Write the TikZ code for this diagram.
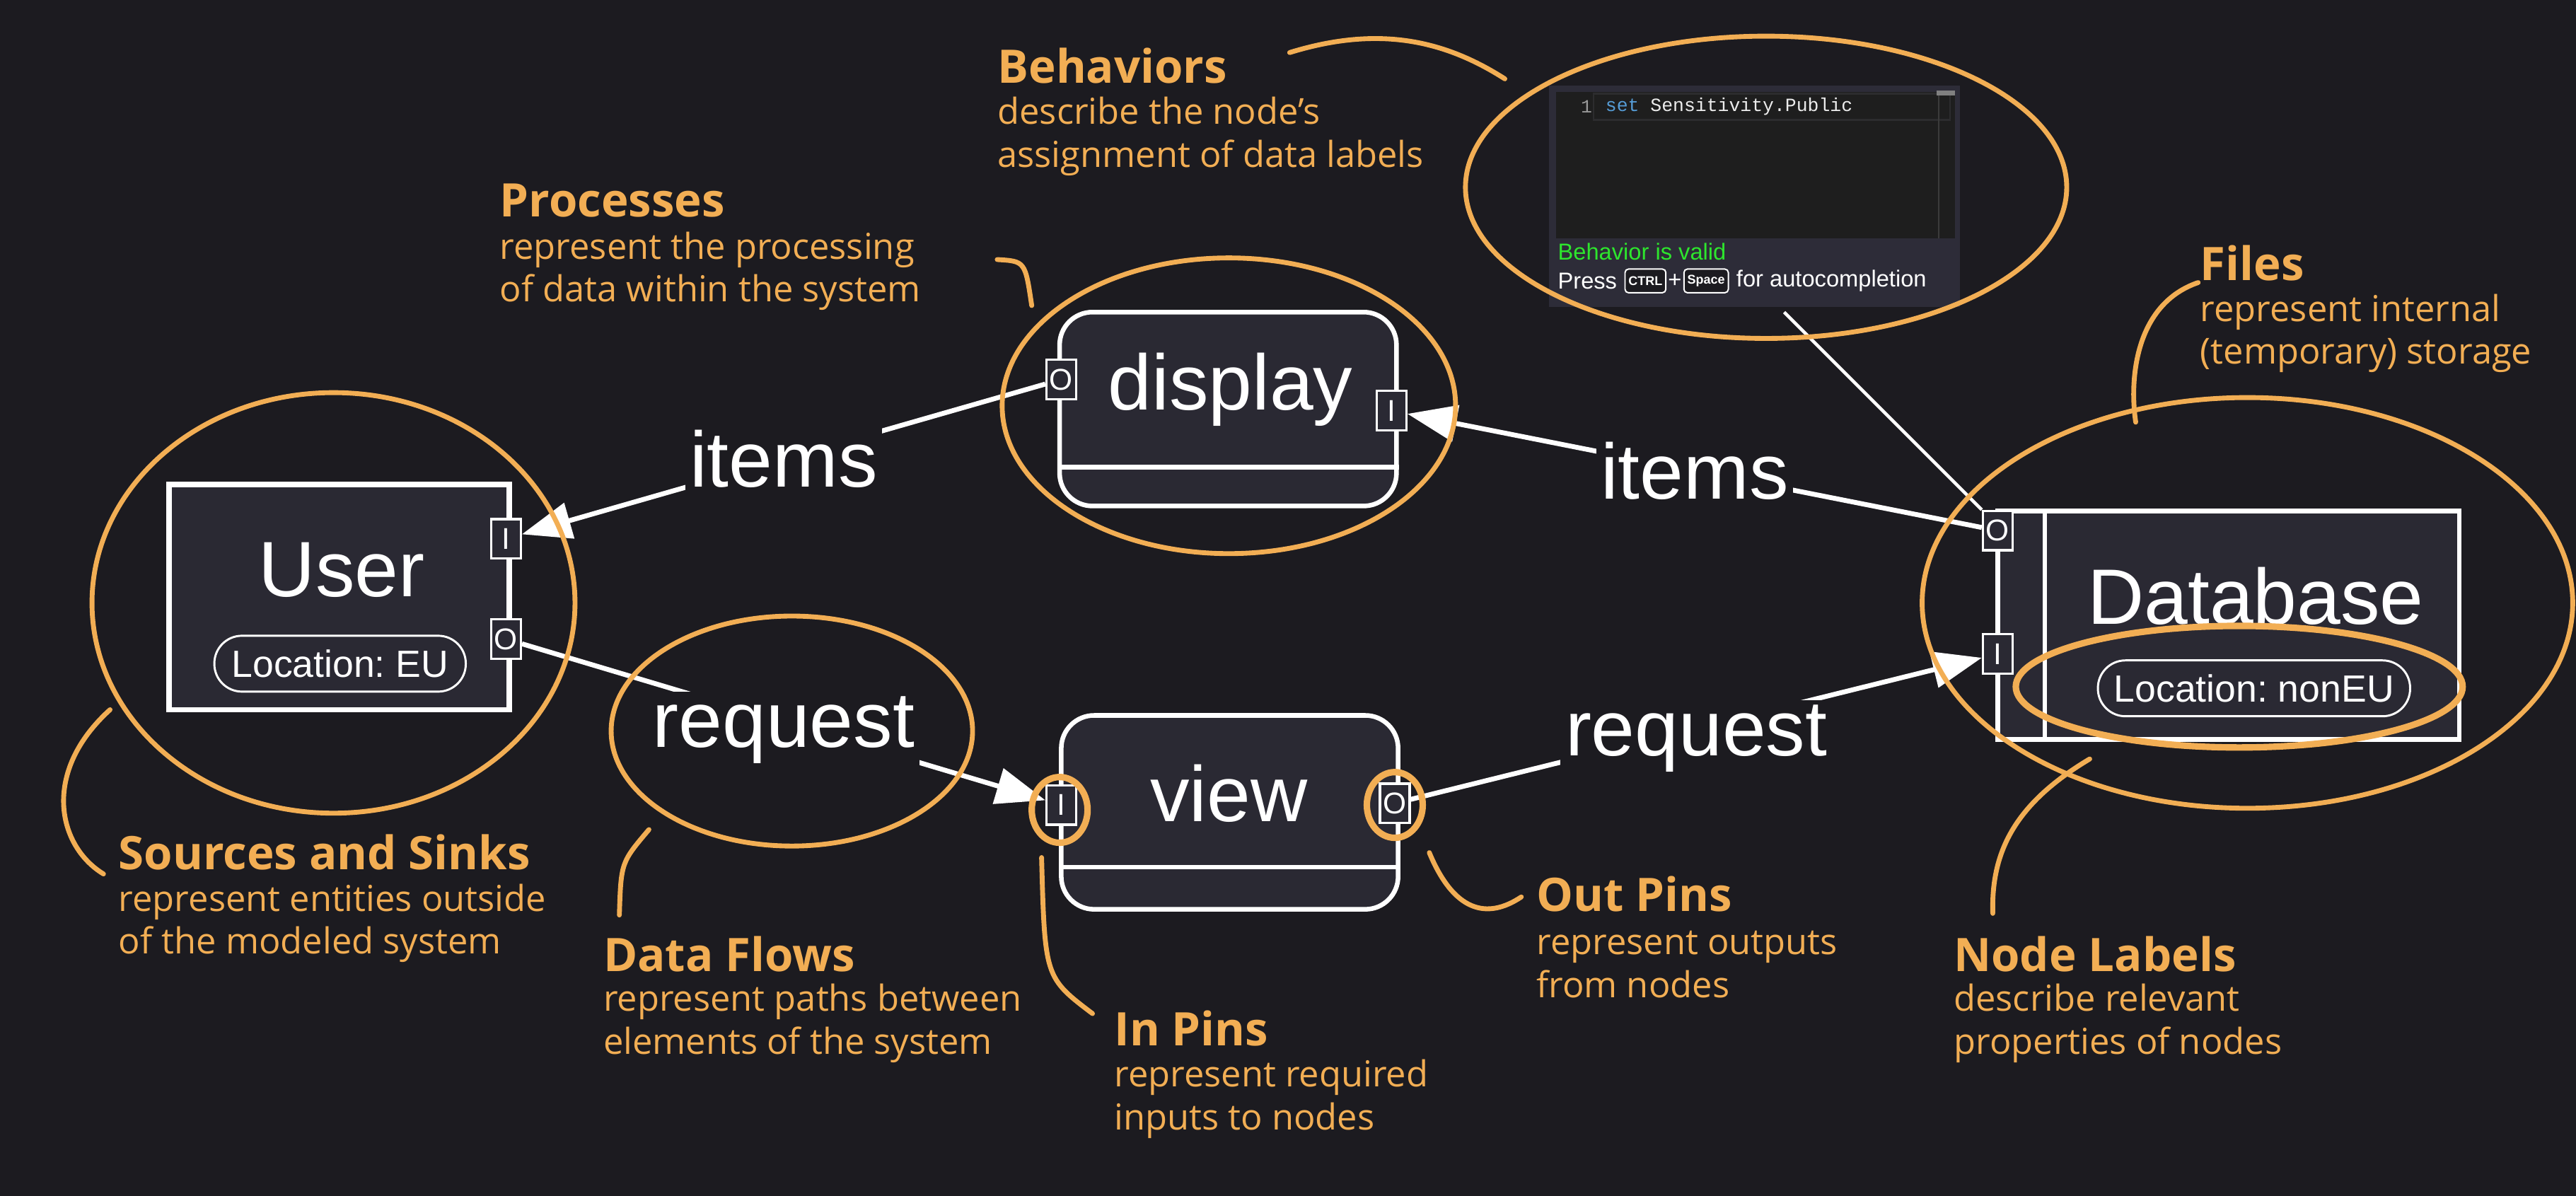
\documentclass[tikz,border=0pt]{standalone}
\usepackage{fontspec}
\setmainfont{Open Sans}
\newfontfamily\uifont{Liberation Sans}
\newfontfamily\codefont{Liberation Mono}
\usetikzlibrary{arrows.meta}
\usetikzlibrary{positioning}
\frenchspacing
\definecolor{bg}{RGB}{28,27,32}
\definecolor{boxfill}{RGB}{42,41,51}
\definecolor{marker}{RGB}{242,174,84}
\definecolor{panelbg}{RGB}{45,44,56}
\definecolor{editorbg}{RGB}{30,30,30}
\definecolor{linehl}{RGB}{44,44,46}
\definecolor{keyword}{RGB}{86,156,214}
\definecolor{validgreen}{RGB}{45,230,45}
\tikzset{nodebox/.style = {draw=white, fill=boxfill, line width=2pt, inner sep=0}}
\tikzset{procbox/.style = {nodebox, rounded corners=0.5cm, minimum width=5.125cm, minimum height=2.95cm}}
\tikzset{pinbox/.style = {draw=white, fill=boxfill, line width=1pt, inner sep=0, minimum width=0.45cm, minimum height=0.6cm, text=white, font=\uifont\fontsize{13}{13}\selectfont}}
\tikzset{bigtext/.style = {text=white, inner sep=2pt, font=\uifont\fontsize{34}{34}\selectfont}}
\tikzset{flowlabel/.style = {bigtext, fill=bg}}
\tikzset{pill/.style = {draw=white, line width=0.9pt, rounded corners=0.42cm, minimum height=0.85cm, text=white, font=\uifont\fontsize{16.4}{16.4}\selectfont}}
\tikzset{flow/.style = {white, line width=2.1pt, -{Triangle[length=0.75cm, width=0.55cm]}}}
\tikzset{hand/.style = {marker, line width=2.1pt, line cap=round}}
\tikzset{head/.style = {anchor=west, inner sep=0, text=marker, font=\bfseries\fontsize{20}{24}\selectfont}}
\tikzset{desc/.style = {anchor=west, inner sep=0, align=left, text=marker, font=\fontsize{15.5}{18.5}\selectfont}}
\tikzset{ui/.style = {anchor=west, inner sep=0, text=white, font=\uifont\fontsize{10}{10}\selectfont}}
\tikzset{keycap/.style = {draw=white, fill=bg, rounded corners=1.5pt, line width=0.6pt, inner sep=1.5pt, minimum height=0.36cm, text=white, font=\uifont\bfseries\fontsize{5.5}{5.5}\selectfont}}

\begin{document}
\begin{tikzpicture}[x=0.025cm, y=-0.025cm]
      \useasboundingbox (0,0) rectangle (1568,728);
      \fill [bg] (0,0) rectangle (1568,728);

      % annotations
      \node [head] (behaviorsH) at (607,40) {Behaviors};
      \node [desc] (behaviorsD) at (607,83) {describe the node’s\\assignment of data labels};
      \node [head] (processesH) at (304,122) {Processes};
      \node [desc] (processesD) at (304,165) {represent the processing\\of data within the system};
      \node [head] (filesH) at (1339,160) {Files};
      \node [desc] (filesD) at (1339,203) {represent internal\\(temporary) storage};
      \node [head] (sourcesH) at (72,519) {Sources and Sinks};
      \node [desc] (sourcesD) at (72,562) {represent entities outside\\of the modeled system};
      \node [head] (flowsH) at (367,581) {Data Flows};
      \node [desc] (flowsD) at (367,623) {represent paths between\\elements of the system};
      \node [head] (inpinsH) at (678,626) {In Pins};
      \node [desc] (inpinsD) at (678,669) {represent required\\inputs to nodes};
      \node [head] (outpinsH) at (935,544) {Out Pins};
      \node [desc] (outpinsD) at (935,587) {represent outputs\\from nodes};
      \node [head] (labelsH) at (1189,581) {Node Labels};
      \node [desc] (labelsD) at (1189,623) {describe relevant\\properties of nodes};

      % behavior editor
      \node [fill=panelbg, inner sep=0, minimum width=6.25cm, minimum height=3.375cm] (panel) at (1068,119.5) {};
      \fill [editorbg] (947,56) rectangle (1190,145);
      \draw [linehl, line width=0.8pt] (970,57) rectangle (1187,73);
      \draw [gray!30!editorbg, line width=0.6pt] (1180,56) -- (1180,145);
      \fill [gray] (1179,55) rectangle (1190,58);
      \node [ui, text=gray!80, font=\codefont\fontsize{8.1}{8.1}\selectfont] (lineno) at (962,65) {1};
      \node [ui, text=white!85!gray, font=\codefont\fontsize{8.1}{8.1}\selectfont] (code) at (977,65) {\textcolor{keyword}{set} Sensitivity.Public};
      \node [ui, text=validgreen] (valid) at (948,153) {Behavior is valid};
      \node [ui] (press) at (948,171) {Press};
      \node [keycap, right=3pt of press] (ctrl) {CTRL};
      \node [ui, right=0.5pt of ctrl] (plus) {+};
      \node [keycap, right=0.5pt of plus] (space) {Space};
      \node [ui, right=3pt of space] (autoc) {for autocompletion};

      % elements
      \node [nodebox, line width=2.4pt, minimum width=5.175cm, minimum height=3.425cm] (user) at (206.5,363.5) {};
      \node [bigtext] (userT) at (208,347) {User};
      \node [pill, minimum width=3.825cm] (userL) at (207,404) {Location: EU};

      \node [procbox] (display) at (747.5,249) {};
      \draw [white, line width=2pt] ([yshift=0.625cm]display.south west) -- ([yshift=0.625cm]display.south east);
      \node [bigtext] (displayT) at (749,237) {display};

      \node [procbox] (view) at (748.5,494.5) {};
      \draw [white, line width=2pt] ([yshift=0.675cm]view.south west) -- ([yshift=0.675cm]view.south east);
      \node [bigtext] (viewT) at (748,483) {view};

      \node [nodebox, minimum width=7.025cm, minimum height=3.475cm] (db) at (1356.5,380.5) {};
      \draw [white, line width=2pt] ([xshift=0.75cm]db.north west) -- ([xshift=0.75cm]db.south west);
      \node [bigtext] (dbT) at (1373,363) {Database};
      \node [pill, minimum width=4.75cm] (dbL) at (1372,419) {Location: nonEU};

      % pins
      \node [pinbox] (uI) at (308,328) {I};
      \node [pinbox] (uO) at (308,389) {O};
      \node [pinbox] (dO) at (646,231) {O};
      \node [pinbox] (dI) at (847,250) {I};
      \node [pinbox] (vI) at (646,490) {I};
      \node [pinbox] (vO) at (849,489) {O};
      \node [pinbox] (dbO) at (1216,323) {O};
      \node [pinbox] (dbI) at (1216,398) {I};

      % flows
      \draw [flow] (dO) -- node [flowlabel] {items} (uI);
      \draw [flow] (dbO) -- node [flowlabel] {items} (dI);
      \draw [flow] (uO) -- node [flowlabel, yshift=-0.12cm] {request} (vI);
      \draw [flow] (vO) -- node [flowlabel, yshift=-0.15cm] {request} (dbI);
      \coordinate (bhv) at (1086,190);
      \draw [white, line width=1.4pt] (bhv) -- (dbO.north west);

      % hand-drawn marks
      \draw [hand] (1075,114) ellipse [x radius=183, y radius=92];
      \draw [hand] (748,247) ellipse [x radius=138, y radius=90];
      \draw [hand] (203,367) ellipse [x radius=147, y radius=128];
      \draw [hand] (482,445) ellipse [x radius=110, y radius=70];
      \draw [hand, line width=2.8pt] (645,493) ellipse [x radius=17, y radius=20];
      \draw [hand, line width=2.8pt] (849,490) ellipse [x radius=17, y radius=20];
      \draw [hand] (1368,367) ellipse [x radius=198, y radius=125];
      \draw [hand, line width=2.8pt] (1363,418) ellipse [x radius=136, y radius=37];

      \draw [hand] (785,32) .. controls (840,15) and (880,25) .. (916,48);
      \draw [hand] (607,158) .. controls (624,159) .. (628,186);
      \draw [hand] (1338,172) .. controls (1300,185) and (1296,230) .. (1300,257);
      \draw [hand] (67,432) .. controls (25,470) and (35,515) .. (63,532);
      \draw [hand] (395,505) .. controls (378,525) .. (377,557);
      \draw [hand] (634,522) .. controls (636,595) .. (665,617);
      \draw [hand] (870,519) .. controls (885,555) and (905,560) .. (926,546);
      \draw [hand] (1272,462) .. controls (1225,490) and (1212,520) .. (1213,556);
\end{tikzpicture}
\end{document}
